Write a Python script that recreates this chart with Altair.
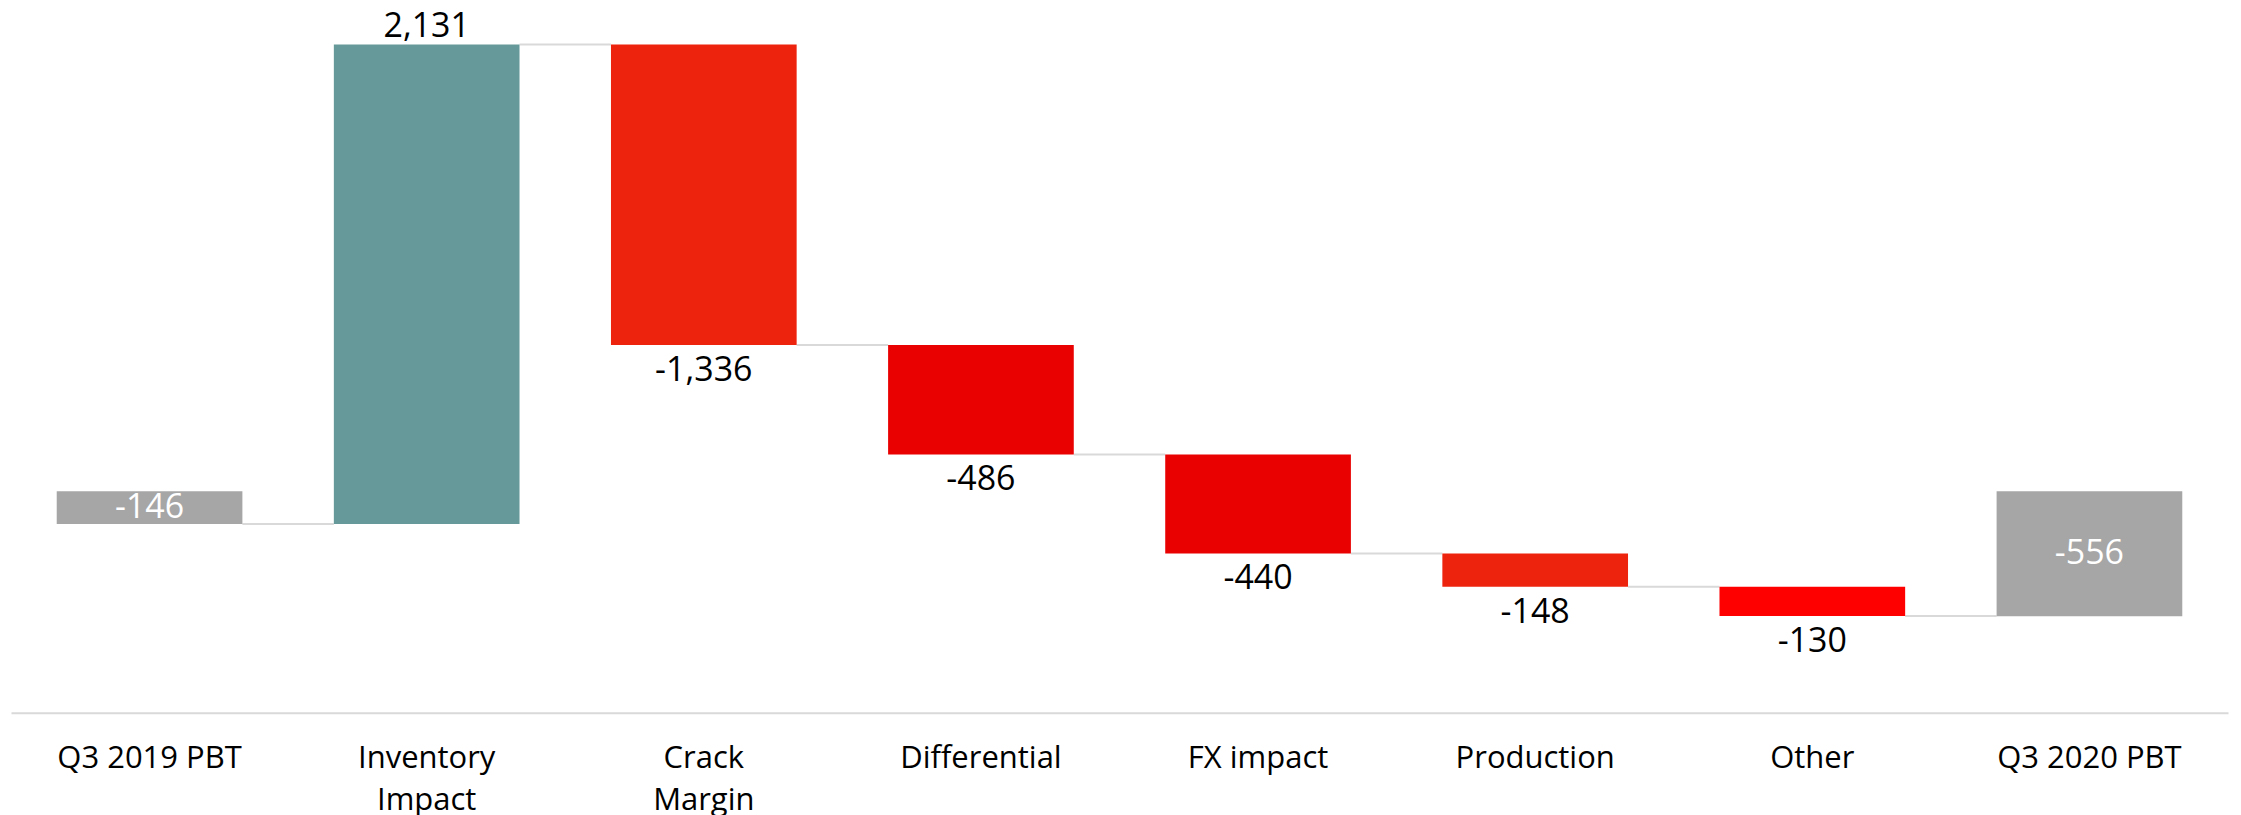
import altair as alt
import pandas as pd

categories = ["Q3 2019 PBT", "Inventory Impact", "Crack Margin", "Differential",
              "FX impact", "Production", "Other", "Q3 2020 PBT"]
values = [-146, 2131, -1336, -486, -440, -148, -130, -556]
kinds = ["total", "delta", "delta", "delta", "delta", "delta", "delta", "total"]
colors = ["#A6A6A6", "#669999", "#EE230D", "#E90000", "#E90000", "#EE230D", "#FF0000", "#A6A6A6"]
axis_labels = [["Q3 2019 PBT"], ["Inventory", "Impact"], ["Crack", "Margin"], ["Differential"],
               ["FX impact"], ["Production"], ["Other"], ["Q3 2020 PBT"]]

rows = []
running = 0
for c, v, k, col in zip(categories, values, kinds, colors):
    if k == "total":
        start, end = 0, v
    else:
        start, end = running, running + v
    running = end
    if k == "total":
        pos, ly = "mid", (start + end) / 2
    elif v >= 0:
        pos, ly = "above", end
    else:
        pos, ly = "below", end
    rows.append(dict(cat=c, value=v, label=f"{v:,}", start=start, end=end,
                     color=col, pos=pos, ly=ly))
df = pd.DataFrame(rows)

conn = pd.DataFrame([
    dict(cat=rows[i]["cat"], cat2=rows[i + 1]["cat"], level=rows[i]["end"])
    for i in range(len(rows) - 1)
])

xscale = alt.Scale(domain=categories, paddingInner=0.33, paddingOuter=0.165)
yscale = alt.Scale(domain=[-985, 2057], nice=False, zero=False)

expr = "datum.value"
for c, lab in reversed(list(zip(categories, axis_labels))):
    if len(lab) > 1:
        arr = "[" + ",".join("'" + s + "'" for s in lab) + "]"
        expr = f"datum.value == '{c}' ? {arr} : ({expr})"

xaxis = alt.Axis(title=None, labelAngle=0, ticks=False, domainColor="#D9D9D9", domainWidth=2,
                 labelFontSize=31, labelColor="#000000", labelPadding=31, labelLineHeight=42,
                 labelFont="Open Sans", labelExpr=expr, labelLimit=0)

base = alt.Chart(df)

connectors = alt.Chart(conn).mark_rule(color="#D9D9D9", strokeWidth=2).encode(
    x=alt.X("cat:N", scale=xscale, axis=xaxis, sort=categories, bandPosition=1),
    x2=alt.X2("cat2:N", bandPosition=0),
    y=alt.Y("level:Q", scale=yscale, axis=None),
)

bars = base.mark_bar().encode(
    x=alt.X("cat:N", scale=xscale, axis=xaxis, sort=categories),
    y=alt.Y("start:Q", scale=yscale, axis=None),
    y2="end:Q",
    color=alt.Color("color:N", scale=None),
)

txt_above = base.transform_filter("datum.pos == 'above'").mark_text(
    baseline="alphabetic", dy=-8, fontSize=34, font="Open Sans", color="#000000"
).encode(x=alt.X("cat:N", sort=categories), y="ly:Q", text="label:N")

txt_below = base.transform_filter("datum.pos == 'below'").mark_text(
    baseline="top", dy=9, fontSize=34, font="Open Sans", color="#000000"
).encode(x=alt.X("cat:N", sort=categories), y="ly:Q", text="label:N")

txt_mid = base.transform_filter("datum.pos == 'mid'").mark_text(
    baseline="middle", fontSize=34, font="Open Sans", color="#FFFFFF"
).encode(x=alt.X("cat:N", sort=categories), y="ly:Q", text="label:N")

chart = alt.layer(connectors, bars, txt_above, txt_below, txt_mid).properties(
    width=2219, height=685,
    autosize=alt.AutoSizeParams(type="none"),
    padding={"left": 3, "top": 20, "right": 5, "bottom": 110},
).configure_view(stroke=None)

chart.save("out.html", embed_options={"renderer": "svg", "actions": False})
